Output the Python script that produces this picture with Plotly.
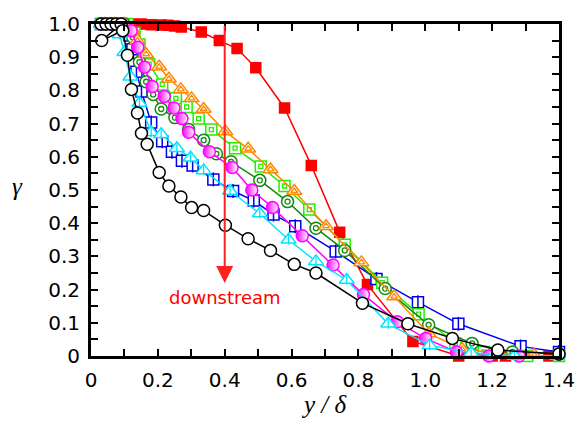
import plotly.graph_objects as go

# ---------------- data ----------------
red_x = [0.12, 0.15, 0.18, 0.21, 0.23, 0.25, 0.27, 0.33, 0.384, 0.437, 0.493, 0.579, 0.659, 0.744, 0.827, 0.963, 1.10, 1.20, 1.24, 1.37]
red_y = [1.0, 1.0, 0.998, 0.997, 0.996, 0.994, 0.991, 0.976, 0.95, 0.926, 0.868, 0.747, 0.574, 0.373, 0.215, 0.044, 0.0, 0.0, 0.0, 0.0]

black_x = [0.03, 0.045, 0.06, 0.075, 0.09, 0.032, 0.095, 0.109, 0.121, 0.139, 0.151, 0.168, 0.204, 0.233, 0.269, 0.301, 0.337, 0.402, 0.47, 0.537, 0.608, 0.673, 0.812, 0.948, 1.081, 1.217, 1.40]
black_y = [1.0, 1.0, 1.0, 1.0, 1.0, 0.95, 0.98, 0.906, 0.803, 0.732, 0.671, 0.638, 0.553, 0.512, 0.479, 0.447, 0.438, 0.394, 0.353, 0.318, 0.276, 0.25, 0.159, 0.097, 0.053, 0.018, 0.006]

blue_x = [0.03, 0.06, 0.09, 0.109, 0.115, 0.124, 0.136, 0.151, 0.18, 0.213, 0.242, 0.272, 0.304, 0.366, 0.425, 0.487, 0.546, 0.611, 0.732, 0.854, 0.978, 1.099, 1.285, 1.40]
blue_y = [1.0, 1.0, 1.0, 0.994, 0.965, 0.924, 0.856, 0.797, 0.703, 0.647, 0.615, 0.588, 0.574, 0.532, 0.497, 0.468, 0.426, 0.391, 0.315, 0.232, 0.162, 0.097, 0.029, 0.012]

green_x = [0.03, 0.06, 0.09, 0.109, 0.13, 0.145, 0.174, 0.213, 0.254, 0.286, 0.322, 0.36, 0.431, 0.508, 0.579, 0.653, 0.759, 0.871, 0.98, 1.09, 1.175, 1.305, 1.40]
green_y = [1.0, 1.0, 1.0, 1.0, 0.974, 0.938, 0.879, 0.818, 0.776, 0.75, 0.715, 0.682, 0.626, 0.571, 0.512, 0.441, 0.335, 0.221, 0.126, 0.038, 0.012, 0.0, 0.0]

orange_x = [0.04, 0.07, 0.10, 0.124, 0.139, 0.165, 0.204, 0.233, 0.269, 0.301, 0.337, 0.402, 0.47, 0.537, 0.608, 0.703, 0.809, 0.907, 1.01, 1.11, 1.208, 1.326]
orange_y = [1.0, 1.0, 1.0, 0.982, 0.95, 0.909, 0.871, 0.835, 0.803, 0.776, 0.744, 0.676, 0.624, 0.562, 0.497, 0.391, 0.282, 0.179, 0.068, 0.021, 0.009, 0.003]

dgreen_x = [0.04, 0.07, 0.10, 0.11, 0.125, 0.145, 0.165, 0.186, 0.21, 0.251, 0.292, 0.337, 0.375, 0.419, 0.505, 0.588, 0.673, 0.759, 0.88, 1.01, 1.14, 1.261, 1.40]
dgreen_y = [1.0, 1.0, 1.0, 0.99, 0.96, 0.885, 0.826, 0.788, 0.744, 0.718, 0.682, 0.65, 0.609, 0.585, 0.529, 0.465, 0.385, 0.318, 0.203, 0.094, 0.038, 0.012, 0.006]

magenta_x = [0.03, 0.06, 0.09, 0.12, 0.14, 0.16, 0.183, 0.219, 0.248, 0.272, 0.292, 0.354, 0.422, 0.481, 0.543, 0.632, 0.724, 0.815, 0.916, 1.001, 1.093, 1.19, 1.28]
magenta_y = [1.0, 1.0, 1.0, 0.98, 0.93, 0.87, 0.812, 0.782, 0.747, 0.715, 0.674, 0.615, 0.568, 0.5, 0.447, 0.362, 0.274, 0.185, 0.103, 0.053, 0.012, 0.0, 0.0]

cyan_x = [0.03, 0.056, 0.086, 0.10, 0.118, 0.145, 0.18, 0.21, 0.257, 0.298, 0.337, 0.416, 0.505, 0.591, 0.673, 0.765, 0.889, 1.013, 1.137, 1.267, 1.394]
cyan_y = [1.0, 1.0, 0.968, 0.915, 0.841, 0.762, 0.674, 0.668, 0.626, 0.597, 0.559, 0.497, 0.429, 0.35, 0.285, 0.229, 0.097, 0.032, 0.009, 0.0, 0.0]

x_tickvals = [0, 0.2, 0.4, 0.6, 0.8, 1.0, 1.2, 1.4]
x_ticktext = ["0", "0.2", "0.4", "0.6", "0.8", "1.0", "1.2", "1.4"]
y_tickvals = [0, 0.1, 0.2, 0.3, 0.4, 0.5, 0.6, 0.7, 0.8, 0.9, 1.0]
y_ticktext = ["0", "0.1", "0.2", "0.3", "0.4", "0.5", "0.6", "0.7", "0.8", "0.9", "1.0"]

x_title = "y / δ"
y_title = "γ"

arrow_x = 0.4
arrow_top = 1.0
arrow_tip = 0.22
label_y = 0.175
label_text = "downstream"

# ---------------- figure ----------------
fig = go.Figure()

def add_series(x, y, color, symbol, size, fill=None, inner=None, inner_size=None, inner_width=1.3, gradient=None):
    marker = dict(symbol=symbol, size=size, color=fill if fill else "white",
                  line=dict(color=color, width=1.5))
    if gradient:
        marker["gradient"] = gradient
    fig.add_trace(go.Scatter(x=x, y=y, mode="lines+markers",
                             line=dict(color=color, width=1.5),
                             marker=marker, cliponaxis=False, showlegend=False))
    if inner:
        fig.add_trace(go.Scatter(x=x, y=y, mode="markers",
                                 marker=dict(symbol=inner, size=inner_size, color=color,
                                             line=dict(color=color, width=inner_width)),
                                 cliponaxis=False, showlegend=False))

add_series(red_x, red_y, "#ff0000", "square", 10, fill="#ff0000")
add_series(blue_x, blue_y, "#0000ee", "square", 11, inner="line-ns", inner_size=10, inner_width=1.5)
add_series(green_x, green_y, "#22ee00", "square", 11, inner="square-open", inner_size=4)
add_series(dgreen_x, dgreen_y, "#118811", "circle", 12, inner="circle-open", inner_size=5)
add_series(orange_x, orange_y, "#ff8800", "triangle-up", 13, inner="triangle-up-open", inner_size=6)
add_series(magenta_x, magenta_y, "#ff00ff", "circle", 12, fill="#ff00ff",
           gradient=dict(type="horizontal", color="white"))
add_series(cyan_x, cyan_y, "#00e5ff", "triangle-up", 13, inner="line-ns", inner_size=7, inner_width=1.3)
add_series(black_x, black_y, "black", "circle", 12)

fig.add_annotation(x=arrow_x, y=arrow_tip, ax=arrow_x, ay=arrow_top,
                   xref="x", yref="y", axref="x", ayref="y",
                   showarrow=True, arrowhead=2, arrowsize=1.7, arrowwidth=2,
                   arrowcolor="#ff2020", text="")
fig.add_annotation(x=arrow_x, y=label_y, xref="x", yref="y", text=label_text,
                   showarrow=False, font=dict(family="DejaVu Sans", size=18, color="#ff0000"))

fig.add_annotation(x=0.498, y=-0.145, xref="paper", yref="paper", text=x_title,
                   showarrow=False, xanchor="center", yanchor="middle",
                   font=dict(family="Liberation Serif", size=25, color="black", style="italic"))
fig.add_annotation(x=-0.158, y=0.51, xref="paper", yref="paper", text=y_title,
                   showarrow=False, xanchor="center", yanchor="middle",
                   font=dict(family="Liberation Serif", size=25, color="black", style="italic"))

axis_common = dict(showline=True, linecolor="black", linewidth=3, mirror="ticks",
                   ticks="inside", ticklen=7, tickwidth=2, tickcolor="black",
                   showgrid=False, zeroline=False,
                   tickfont=dict(family="DejaVu Sans", size=20, color="black"))

fig.update_xaxes(range=[0, 1.4], tickvals=x_tickvals, ticktext=x_ticktext,
                 minor=dict(dtick=0.1, tick0=0, ticks="inside", ticklen=7, tickwidth=2, tickcolor="black", showgrid=False),
                 ticklabelstandoff=4, **axis_common)
fig.update_yaxes(range=[0, 1.0], tickvals=y_tickvals, ticktext=y_ticktext,
                 minor=dict(dtick=0.05, tick0=0, ticks="inside", ticklen=7, tickwidth=2, tickcolor="black", showgrid=False),
                 ticklabelstandoff=4, **axis_common)

fig.update_layout(width=587, height=429, margin=dict(l=91, r=22, t=16, b=73),
                  plot_bgcolor="white", paper_bgcolor="white")

fig.write_html("out.html")
